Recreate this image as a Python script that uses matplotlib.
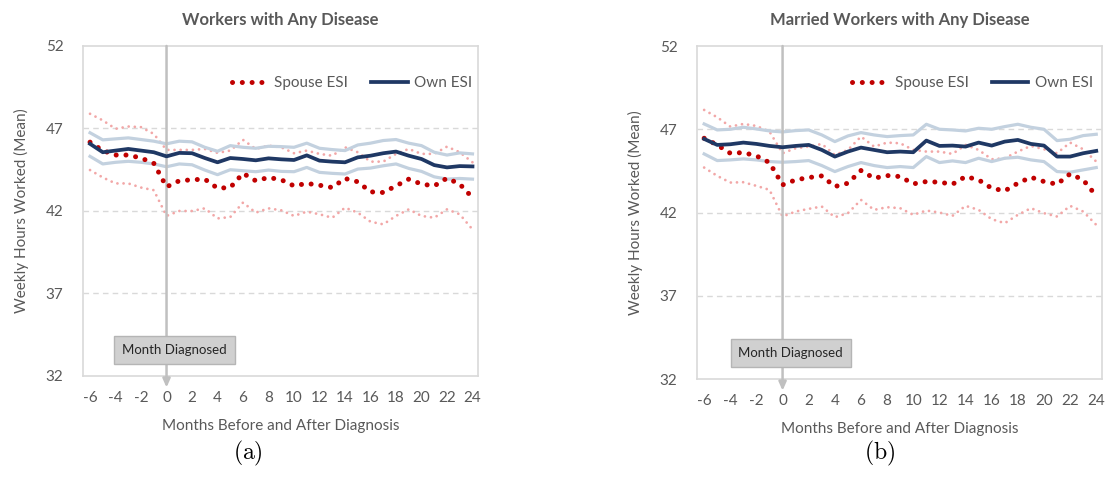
import matplotlib
matplotlib.use("Agg")
import matplotlib.pyplot as plt
import numpy as np

plt.rcParams['font.family'] = ['Lato', 'DejaVu Sans']
plt.rcParams['mathtext.fontset'] = 'cm'

months = list(range(-6, 25))

# Panel (a): Workers with Any Disease
a_own = [46.07, 45.56, 45.66, 45.76, 45.66, 45.56, 45.31, 45.52, 45.50, 45.21, 44.95,
         45.21, 45.15, 45.07, 45.19, 45.13, 45.09, 45.37, 45.05, 44.99, 44.95, 45.25,
         45.35, 45.50, 45.60, 45.35, 45.15, 44.78, 44.64, 44.72, 44.70]
a_own_hi = [46.74, 46.31, 46.37, 46.43, 46.33, 46.23, 46.07, 46.23, 46.19, 45.86, 45.62,
            45.96, 45.86, 45.80, 45.92, 45.90, 45.86, 46.11, 45.80, 45.72, 45.66, 46.00,
            46.11, 46.27, 46.33, 46.11, 45.96, 45.56, 45.39, 45.52, 45.46]
a_own_lo = [45.31, 44.85, 44.95, 45.01, 44.95, 44.85, 44.68, 44.85, 44.80, 44.48, 44.20,
            44.50, 44.44, 44.38, 44.48, 44.40, 44.38, 44.64, 44.34, 44.28, 44.24, 44.54,
            44.60, 44.74, 44.85, 44.58, 44.40, 44.07, 43.93, 43.97, 43.93]
a_sp = [46.17, 45.66, 45.39, 45.39, 45.21, 44.89, 43.46, 43.83, 43.89, 43.93, 43.38,
        43.42, 44.28, 43.83, 44.03, 43.89, 43.52, 43.67, 43.56, 43.42, 43.97, 43.77,
        43.16, 43.12, 43.52, 43.93, 43.63, 43.52, 43.99, 43.63, 42.81]
a_sp_hi = [47.89, 47.49, 46.98, 47.12, 47.08, 46.67, 45.70, 45.70, 45.70, 45.76, 45.52,
           45.66, 46.31, 45.76, 45.96, 45.86, 45.50, 45.66, 45.46, 45.35, 45.86, 45.56,
           44.99, 44.99, 45.46, 45.76, 45.46, 45.46, 45.90, 45.56, 44.95]
a_sp_lo = [44.48, 44.03, 43.67, 43.67, 43.42, 43.26, 41.70, 42.00, 42.00, 42.16, 41.55,
           41.63, 42.51, 41.90, 42.16, 42.04, 41.70, 41.96, 41.80, 41.59, 42.20, 41.90,
           41.35, 41.19, 41.70, 42.10, 41.70, 41.59, 42.10, 41.80, 40.88]

# Panel (b): Married Workers with Any Disease
b_own = [46.42, 46.06, 46.10, 46.20, 46.12, 46.00, 45.92, 46.00, 46.06, 45.76, 45.36,
         45.66, 45.90, 45.76, 45.62, 45.66, 45.62, 46.32, 46.00, 46.02, 45.96, 46.20,
         46.02, 46.26, 46.36, 46.12, 46.02, 45.36, 45.36, 45.56, 45.70]
b_own_hi = [47.32, 46.96, 47.00, 47.12, 47.02, 46.90, 46.84, 46.92, 46.96, 46.66, 46.26,
            46.60, 46.80, 46.66, 46.56, 46.62, 46.66, 47.30, 47.00, 46.96, 46.90, 47.06,
            47.00, 47.16, 47.30, 47.12, 47.00, 46.32, 46.40, 46.62, 46.70]
b_own_lo = [45.52, 45.12, 45.16, 45.22, 45.16, 45.06, 45.02, 45.06, 45.12, 44.82, 44.46,
            44.76, 45.00, 44.82, 44.70, 44.76, 44.70, 45.36, 45.00, 45.10, 45.00, 45.26,
            45.06, 45.26, 45.32, 45.16, 45.06, 44.46, 44.42, 44.56, 44.70]
b_sp = [46.46, 46.06, 45.56, 45.60, 45.40, 45.00, 43.66, 43.96, 44.10, 44.20, 43.56,
        43.76, 44.52, 44.06, 44.22, 44.16, 43.72, 43.86, 43.82, 43.70, 44.16, 43.96,
        43.46, 43.30, 43.76, 44.12, 43.86, 43.70, 44.32, 43.96, 43.00]
b_sp_hi = [48.16, 47.72, 47.16, 47.32, 47.20, 46.86, 45.56, 45.86, 45.96, 46.12, 45.46,
           45.76, 46.56, 45.96, 46.20, 46.16, 45.76, 45.66, 45.66, 45.52, 46.06, 45.76,
           45.20, 45.26, 45.66, 46.00, 45.80, 45.56, 46.20, 45.80, 45.06]
b_sp_lo = [44.70, 44.20, 43.80, 43.82, 43.60, 43.36, 41.76, 42.06, 42.22, 42.36, 41.72,
           41.96, 42.76, 42.16, 42.32, 42.26, 41.86, 42.12, 42.00, 41.80, 42.40, 42.16,
           41.60, 41.36, 41.86, 42.26, 41.96, 41.76, 42.40, 42.06, 41.26]

titles = ["Workers with Any Disease", "Married Workers with Any Disease"]
captions = ["(a)", "(b)"]
yticks = [32, 37, 42, 47, 52]
xticks = list(range(-6, 25, 2))

NAVY = "#1f3864"
CI_BLUE = "#c3d1df"
RED = "#c00000"
PINK = "#f2a7a7"
TXT = "#595959"
GRID = "#d9d9d9"

fig = plt.figure(figsize=(11.07, 4.97), dpi=100)
axes = [fig.add_axes([0.075, 0.2435, 0.357, 0.664]),
        fig.add_axes([0.6296, 0.2374, 0.366, 0.670])]

data = [(a_own, a_own_hi, a_own_lo, a_sp, a_sp_hi, a_sp_lo),
        (b_own, b_own_hi, b_own_lo, b_sp, b_sp_hi, b_sp_lo)]

for i, ax in enumerate(axes):
    own, own_hi, own_lo, sp, sp_hi, sp_lo = data[i]
    ax.set_xlim(-6.55, 24.45)
    ax.set_ylim(32, 52)
    for g in [37, 42, 47]:
        ax.axhline(g, color=GRID, lw=1, ls=(0, (4, 3)), zorder=0)
    for s in ax.spines.values():
        s.set_color(GRID)
        s.set_linewidth(1.2)

    # confidence bounds
    ax.plot(months, sp_hi, color=PINK, lw=2.0, ls=(0, (0.01, 2.2)),
            dash_capstyle='round', zorder=2)
    ax.plot(months, sp_lo, color=PINK, lw=2.0, ls=(0, (0.01, 2.2)),
            dash_capstyle='round', zorder=2)
    ax.plot(months, own_hi, color=CI_BLUE, lw=2.3, zorder=2)
    ax.plot(months, own_lo, color=CI_BLUE, lw=2.3, zorder=2)
    # main series
    ax.plot(months, sp, color=RED, lw=3.6, ls=(0, (0.01, 1.95)),
            dash_capstyle='round', zorder=4, label="Spouse ESI")
    ax.plot(months, own, color=NAVY, lw=2.7, zorder=4, label="Own ESI")

    # diagnosis marker line with arrow
    ax.annotate("", xy=(0, 31.3), xytext=(0, 52), xycoords='data',
                arrowprops=dict(arrowstyle='-|>,head_length=0.5,head_width=0.22',
                                color="#c0c0c0", lw=1.8, shrinkA=0, shrinkB=0),
                annotation_clip=False, zorder=3)
    ax.text(0.63, 33.55, "Month Diagnosed", ha='center', va='center', fontsize=9.5,
            color="#262626", zorder=5,
            bbox=dict(boxstyle='square,pad=0.6', fc="#d0d0d0", ec="#b5b5b5", lw=1))

    ax.set_xticks(xticks)
    ax.set_xticklabels([str(t) for t in xticks])
    ax.set_yticks(yticks)
    ax.set_yticklabels([str(t) for t in yticks])
    ax.tick_params(length=0, labelsize=11, colors=TXT, pad=11)
    ax.tick_params(axis='y', pad=14)
    ax.set_xlabel("Months Before and After Diagnosis", fontsize=11, color=TXT, labelpad=10)
    ax.set_ylabel("Weekly Hours Worked (Mean)", fontsize=11, color=TXT, labelpad=12)
    ax.set_title(titles[i], fontsize=12, fontweight='bold', color=TXT, pad=15)
    leg = ax.legend(loc='center', bbox_to_anchor=(0.68, 0.888), ncol=2, frameon=False,
                    fontsize=11, handlelength=2.4, columnspacing=1.5, handletextpad=0.4)
    for t in leg.get_texts():
        t.set_color(TXT)

fig.text(0.224, 0.088, r"$\mathrm{(a)}$", ha='center', va='center', fontsize=17)
fig.text(0.795, 0.088, r"$\mathrm{(b)}$", ha='center', va='center', fontsize=17)

fig.savefig("out.png", dpi=100)
